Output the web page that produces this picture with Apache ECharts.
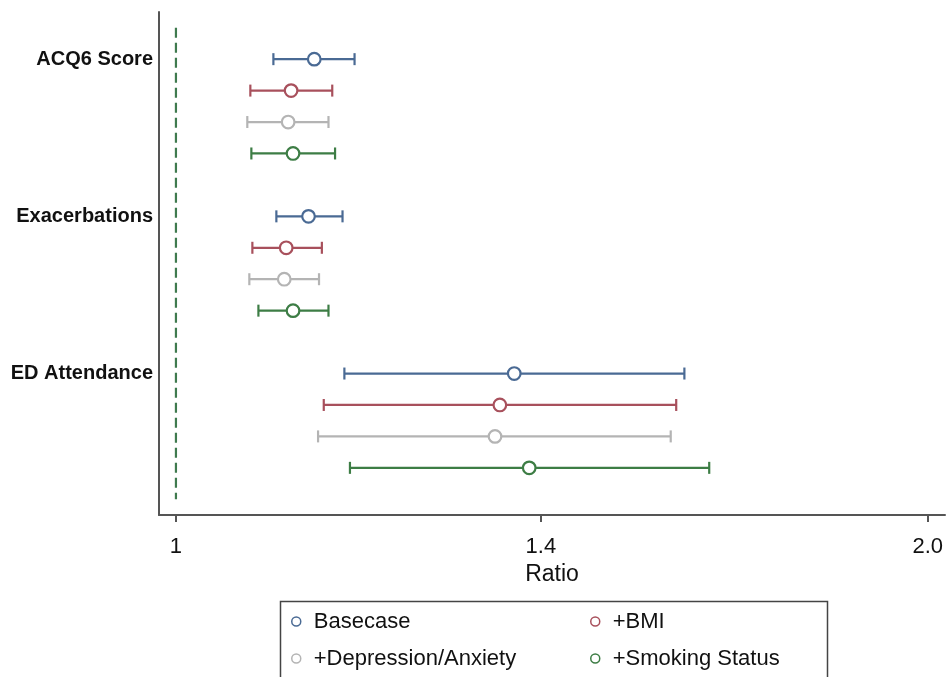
<!DOCTYPE html>
<html>
<head>
<meta charset="utf-8">
<script src="https://cdn.jsdelivr.net/npm/echarts@6/dist/echarts.min.js"></script>
<style>
  html, body { margin: 0; padding: 0; background: #fff; }
  #chart { width: 948px; height: 677px; }
</style>
</head>
<body>
<div id="chart"></div>
<script>
// outcome groups, top to bottom
var groups = ['ACQ6 Score', 'Exacerbations', 'ED Attendance'];

// ratio estimates with 95% CI, one entry per group
var basecaseLow  = [1.094, 1.097, 1.168];
var basecaseMid  = [1.136, 1.130, 1.366];
var basecaseHigh = [1.179, 1.166, 1.598];

var bmiLow  = [1.071, 1.073, 1.146];
var bmiMid  = [1.112, 1.107, 1.348];
var bmiHigh = [1.155, 1.144, 1.586];

var depLow  = [1.068, 1.070, 1.140];
var depMid  = [1.109, 1.105, 1.342];
var depHigh = [1.151, 1.141, 1.578];

var smokeLow  = [1.072, 1.079, 1.174];
var smokeMid  = [1.114, 1.114, 1.385];
var smokeHigh = [1.158, 1.151, 1.635];

var models = ['Basecase', '+BMI', '+Depression/Anxiety', '+Smoking Status'];
var modelColors = ['#4a6a94', '#a8505c', '#b4b4b4', '#3d7d45'];

// x axis (log scale of the ratio)
var tickValues = [1, 1.4, 2];
var tickLabels = ['1', '1.4', '2.0'];
var axisMin = 0.9845;
var axisMax = 2.032;
var refValue = 1;

var FONT = 'Liberation Sans, Arial, sans-serif';

// 5 slots per group (4 models + gap), plus one empty slot on top
var categories = [''];
for (var g = 0; g < groups.length; g++) {
    categories.push(groups[g], '', '', '', '');
}
// categories now has 16 entries

function buildData(low, mid, high, m) {
    var list = [];
    for (var i = 0; i < groups.length; i++) {
        list.push([Math.log(low[i]), Math.log(mid[i]), Math.log(high[i]), 1 + i * 5 + m]);
    }
    return list;
}

var modelData = [
    buildData(basecaseLow, basecaseMid, basecaseHigh, 0),
    buildData(bmiLow, bmiMid, bmiHigh, 1),
    buildData(depLow, depMid, depHigh, 2),
    buildData(smokeLow, smokeMid, smokeHigh, 3)
];

function renderCI(color) {
    return function (params, api) {
        var row = api.value(3);
        var pLow = api.coord([api.value(0), row]);
        var pMid = api.coord([api.value(1), row]);
        var pHigh = api.coord([api.value(2), row]);
        var cap = 6;
        var lineStyle = {stroke: color, lineWidth: 2.2};
        return {
            type: 'group',
            children: [
                {type: 'line', shape: {x1: pLow[0], y1: pLow[1], x2: pHigh[0], y2: pHigh[1]}, style: lineStyle},
                {type: 'line', shape: {x1: pLow[0], y1: pLow[1] - cap, x2: pLow[0], y2: pLow[1] + cap}, style: lineStyle},
                {type: 'line', shape: {x1: pHigh[0], y1: pHigh[1] - cap, x2: pHigh[0], y2: pHigh[1] + cap}, style: lineStyle},
                {type: 'circle', shape: {cx: pMid[0], cy: pMid[1], r: 6.3}, style: {fill: '#fff', stroke: color, lineWidth: 2.2}}
            ]
        };
    };
}

var series = [{
    name: 'ref',
    type: 'line',
    silent: true,
    symbol: 'none',
    lineStyle: {color: '#3f7a4e', width: 2.2, type: [10, 5]},
    data: [[Math.log(refValue), 0], [Math.log(refValue), categories.length - 1]],
    z: 1
}];
for (var m = 0; m < models.length; m++) {
    series.push({
        name: models[m],
        type: 'custom',
        renderItem: renderCI(modelColors[m]),
        encode: {x: [0, 1, 2], y: 3},
        data: modelData[m],
        z: 3
    });
}

function legendItem(i) {
    return {
        name: models[i],
        icon: 'circle',
        itemStyle: {color: '#fff', borderColor: modelColors[i], borderWidth: 1.5}
    };
}

var legendCommon = {
    orient: 'vertical',
    top: 608,
    padding: 0,
    itemGap: 10,
    itemWidth: 9,
    itemHeight: 9,
    selectedMode: false,
    textStyle: {fontFamily: FONT, fontSize: 22, color: '#111', lineHeight: 27, padding: [0, 0, 0, 8]}
};

var chart = echarts.init(document.getElementById('chart'));
chart.setOption({
    animation: false,
    backgroundColor: '#fff',
    grid: {left: 159, right: 3, top: 12, bottom: 162},
    xAxis: {
        type: 'value',
        min: Math.log(axisMin),
        max: Math.log(axisMax),
        name: 'Ratio',
        nameLocation: 'middle',
        nameGap: 48,
        nameTextStyle: {fontFamily: FONT, fontSize: 23, color: '#111'},
        axisLine: {show: true, onZero: false, lineStyle: {color: '#555', width: 2}},
        axisTick: {
            show: true,
            length: 7,
            lineStyle: {color: '#555', width: 2},
            customValues: tickValues.map(function (v) { return Math.log(v); })
        },
        axisLabel: {
            show: true,
            margin: 21,
            fontFamily: FONT,
            fontSize: 22,
            color: '#111',
            customValues: tickValues.map(function (v) { return Math.log(v); }),
            formatter: function (val) {
                for (var i = 0; i < tickValues.length; i++) {
                    if (Math.abs(Math.log(tickValues[i]) - val) < 1e-6) return tickLabels[i];
                }
                return '';
            }
        },
        splitLine: {show: false}
    },
    yAxis: {
        type: 'category',
        inverse: true,
        data: categories,
        axisLine: {show: true, onZero: false, lineStyle: {color: '#555', width: 2}},
        axisTick: {show: false},
        axisLabel: {
            interval: 0,
            margin: 6,
            fontFamily: FONT,
            fontSize: 20,
            fontWeight: 'bold',
            color: '#111'
        },
        splitLine: {show: false}
    },
    legend: [
        Object.assign({}, legendCommon, {left: 291, data: [legendItem(0), legendItem(2)]}),
        Object.assign({}, legendCommon, {left: 590, data: [legendItem(1), legendItem(3)]})
    ],
    graphic: [{
        type: 'rect',
        left: 278,
        top: 599,
        shape: {width: 547, height: 100},
        style: {fill: 'none', stroke: '#444', lineWidth: 1.5},
        z: 0
    }],
    series: series
});
</script>
</body>
</html>
